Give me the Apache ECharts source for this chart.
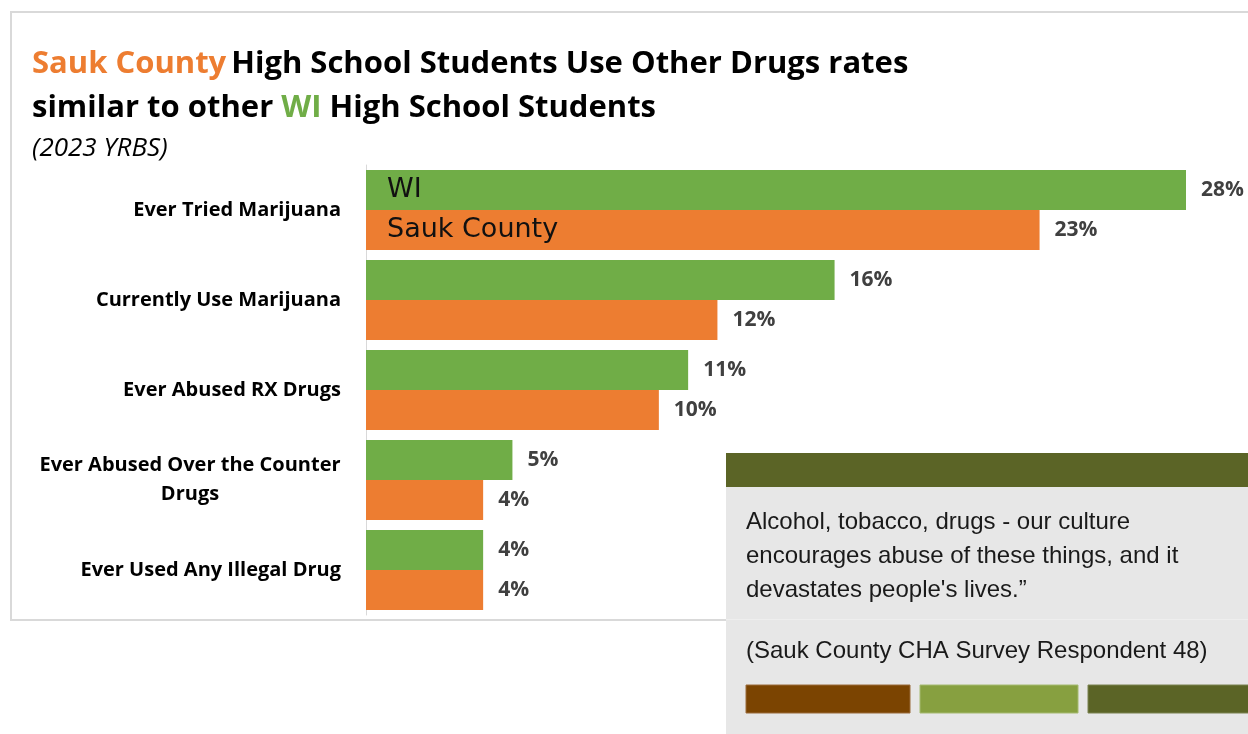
<!DOCTYPE html>
<html>
<head>
<meta charset="utf-8">
<script src="https://cdn.jsdelivr.net/npm/echarts@6/dist/echarts.min.js"></script>
<style>
  html, body { margin: 0; padding: 0; background: #fff; }
  #chart { width: 1248px; height: 734px; }
</style>
</head>
<body>
<div id="chart"></div>
<script>
// 2023 YRBS, percent of high school students
const categories = [
  'Ever Tried Marijuana',
  'Currently Use Marijuana',
  'Ever Abused RX Drugs',
  'Ever Abused Over the Counter Drugs',
  'Ever Used Any Illegal Drug'
];
const wiValues = [28, 16, 11, 5, 4];
const saukValues = [23, 12, 10, 4, 4];
const seriesNames = ['WI', 'Sauk County'];

const quoteLines = [
  'Alcohol, tobacco, drugs - our culture',
  'encourages abuse of these things, and it',
  'devastates people\'s lives.”'
];
const quoteSource = '(Sauk County CHA Survey Respondent 48)';

const GREEN = '#70AD47';
const ORANGE = '#ED7D31';
const LABEL_FONT = '"Open Sans", Lato, sans-serif';
const QUOTE_FONT = '"Liberation Sans", Arial, sans-serif';

const chart = echarts.init(document.getElementById('chart'));

const barBase = { type: 'bar', barWidth: 40, barGap: '0%', barCategoryGap: '11%' };

const valueLabel = {
  show: true, position: 'right', distance: 15,
  formatter: p => p.value + '%',
  color: '#404040', fontSize: 21, fontWeight: 'bold', fontFamily: LABEL_FONT
};

// transparent copies on a hidden axis carry the series names inside the first bars
function nameSeries(name, values) {
  return {
    ...barBase, name: name + '-tag', yAxisIndex: 1, silent: true,
    itemStyle: { color: 'rgba(0,0,0,0)' },
    data: values.map((v, i) => i === 0 ? {
      value: v,
      label: { show: true, position: 'insideLeft', distance: 21, formatter: name,
        color: '#111', fontSize: 27, fontFamily: '"DejaVu Sans", sans-serif' }
    } : v)
  };
}

const titleStyle = color => ({ color, fontSize: 31, fontWeight: 'bold', fontFamily: LABEL_FONT, lineHeight: 44 });

chart.setOption({
  animation: false,
  title: [{
    left: 32, top: 42, padding: 0,
    text: '{o|Sauk County} {b|High School Students Use Other Drugs rates}\n{b|similar to other }{g|WI}{b| High School Students}',
    textStyle: { rich: { o: titleStyle(ORANGE), g: titleStyle(GREEN), b: titleStyle('#000') } }
  }, {
    left: 32, top: 136, padding: 0,
    text: '(2023 YRBS)',
    textStyle: { color: '#000', fontSize: 26, fontStyle: 'italic', fontWeight: 'normal', fontFamily: LABEL_FONT }
  }],
  grid: { left: 366, top: 165, width: 820, height: 450 },
  xAxis: { type: 'value', min: 0, max: 28, show: false },
  yAxis: [{
    type: 'category', data: categories, inverse: true,
    axisLine: { show: true, lineStyle: { color: '#d9d9d9', width: 1 } },
    axisTick: { show: false },
    axisLabel: {
      margin: 25, color: '#000', fontSize: 20, fontWeight: 'bold', fontFamily: LABEL_FONT,
      lineHeight: 29,
      formatter: v => v === 'Ever Abused Over the Counter Drugs'
        ? '{c|Ever Abused Over the Counter}\n{c|Drugs}' : v,
      rich: { c: { width: 302, align: 'center', fontSize: 20, fontWeight: 'bold',
        fontFamily: LABEL_FONT, color: '#000', lineHeight: 29 } }
    }
  }, {
    type: 'category', data: categories, inverse: true, show: false
  }],
  series: [
    { ...barBase, name: seriesNames[0], data: wiValues, itemStyle: { color: GREEN }, label: valueLabel },
    { ...barBase, name: seriesNames[1], data: saukValues, itemStyle: { color: ORANGE }, label: valueLabel },
    nameSeries(seriesNames[0], wiValues),
    nameSeries(seriesNames[1], saukValues)
  ],
  graphic: [
    // outer chart frame
    { type: 'rect', z: -10, shape: { x: 11, y: 12, width: 1260, height: 608 },
      style: { fill: 'none', stroke: '#d9d9d9', lineWidth: 2 } },
    // quote panel
    { type: 'rect', z: 10, shape: { x: 726, y: 453, width: 530, height: 290 }, style: { fill: '#e7e7e7' } },
    { type: 'rect', z: 11, shape: { x: 726, y: 453, width: 530, height: 34 }, style: { fill: '#5b6426' } },
    { type: 'rect', z: 11, shape: { x: 726, y: 619, width: 530, height: 1 }, style: { fill: '#eeeeee' } },
    { type: 'text', z: 12, left: 746, top: 505,
      style: { text: quoteLines.join('\n'), fill: '#1a1a1a', fontSize: 24, lineHeight: 34,
        fontFamily: QUOTE_FONT } },
    { type: 'text', z: 12, left: 746, top: 639,
      style: { text: quoteSource, fill: '#1a1a1a', fontSize: 24, fontFamily: QUOTE_FONT } },
    { type: 'rect', z: 12, shape: { x: 746, y: 685, width: 164, height: 28 },
      style: { fill: '#7b4401', stroke: '#9a6a3a', lineWidth: 1 } },
    { type: 'rect', z: 12, shape: { x: 920, y: 685, width: 158, height: 28 },
      style: { fill: '#87a040', stroke: '#a5ba70', lineWidth: 1 } },
    { type: 'rect', z: 12, shape: { x: 1088, y: 685, width: 170, height: 28 },
      style: { fill: '#5b6426', stroke: '#7a8250', lineWidth: 1 } }
  ]
});
</script>
</body>
</html>
